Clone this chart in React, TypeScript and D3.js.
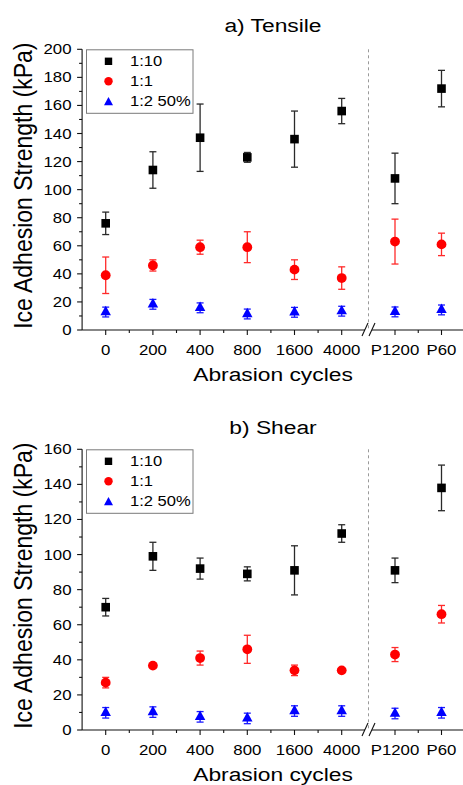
import React from "react";
import * as d3 from "d3";

const categories = ["0", "200", "400", "800", "1600", "4000", "P1200", "P60"];
const leftCats = categories.slice(0, 6);
const rightCats = categories.slice(6);
const seriesNames = ["1:10", "1:1", "1:2 50%"];
const seriesColors = ["#000000", "#ff0000", "#0000ff"];
const errColors = ["#2a2a2a", "#ff2a2a", "#1a1aff"];
const seriesShapes = ["square", "circle", "triangle"];

// a) Tensile
const tensile110 = [76, 114, 137, 123, 136, 156, 108, 172];
const tensile110Err = [8, 13, 24, 3.5, 20, 9, 18, 13];
const tensile11 = [39, 46, 59, 59, 43, 37, 63, 61];
const tensile11Err = [13, 4, 5, 11, 7, 8, 16, 8];
const tensile12 = [12.8, 18.3, 15.8, 11.4, 12.6, 13.4, 12.9, 14.3];
const tensile12Err = [3.5, 3.5, 3.5, 3.5, 3.5, 3.5, 3.5, 3.5];

// b) Shear
const shear110 = [70, 99, 92, 89, 91, 112, 91, 138];
const shear110Err = [5, 8, 6, 4, 14, 5, 7, 13];
const shear11 = [27, 36.7, 41, 46, 34, 34, 43, 66];
const shear11Err = [3, 1, 4, 8, 3, 1, 4, 5];
const shear12 = [9.8, 10.2, 7.5, 6.6, 10.8, 10.8, 9.4, 9.8];
const shear12Err = [3, 3, 3, 3, 3, 3, 3, 3];

const yTicksA = d3.range(0, 201, 20);
const yTicksB = d3.range(0, 161, 20);

const FONT = "'Liberation Sans', Arial, sans-serif";
const SX = 1.2;

const xLeft = d3.scalePoint<string>().domain(leftCats).range([105.7, 341.7]);
const xRight = d3.scalePoint<string>().domain(rightCats).range([395, 441.5]);
const xPos = (c: string) => (leftCats.includes(c) ? (xLeft(c) as number) : (xRight(c) as number));

function Marker({ shape, x, y, color, s }: { shape: string; x: number; y: number; color: string; s: number }) {
  if (shape === "square") {
    return <rect x={x - s / 2} y={y - s / 2} width={s} height={s} fill={color} />;
  }
  if (shape === "circle") {
    return <circle cx={x} cy={y} r={s * 0.57} fill={color} />;
  }
  const w = s * 1.22;
  const h = s * 1.1;
  const p = `M${x},${y - (h * 2) / 3}L${x + w / 2},${y + h / 3}L${x - w / 2},${y + h / 3}Z`;
  return <path d={p} fill={color} />;
}

function STxt({ x, y, size, anchor, children, rotate }: any) {
  const tr = rotate
    ? `translate(${x},${y}) scale(${SX * 0.95},1) rotate(-90)`
    : `translate(${x},${y}) scale(${SX},1)`;
  return (
    <text transform={tr} fontSize={size} textAnchor={anchor} fontFamily={FONT} fill="#000">
      {children}
    </text>
  );
}

function Panel({
  yTop, yBottom, yMax, yTicks, title, titleY, xTitleY, values, errs,
}: any) {
  const y = d3.scaleLinear().domain([0, yMax]).range([yBottom, yTop]);
  const minorY = d3.range(10, yMax, 20);
  const stepL = xLeft.step();
  const axisL0 = (xLeft(leftCats[0]) as number) - stepL / 2;
  const minorXL = leftCats.slice(1).map((c, i) => ((xLeft(c) as number) + (xLeft(leftCats[i]) as number)) / 2);
  const minorXR = rightCats.slice(1).map((c, i) => ((xRight(c) as number) + (xRight(rightCats[i]) as number)) / 2);
  const breakX = 368.5;
  const legTop = yTop;
  return (
    <g>
      <STxt x={273} y={titleY} size={19} anchor="middle">{title}</STxt>
      {/* dashed separator */}
      <line x1={breakX} x2={breakX} y1={yTop} y2={yBottom} stroke="#9a9a9a" strokeWidth={1} strokeDasharray="3,3" />
      {/* y axis */}
      <line x1={axisL0} x2={axisL0} y1={yTop} y2={yBottom} stroke="#111" strokeWidth={1.1} />
      {yTicks.map((t: number) => (
        <g key={"yt" + t}>
          <line x1={axisL0 - 5} x2={axisL0} y1={y(t)} y2={y(t)} stroke="#111" strokeWidth={1.1} />
          <STxt x={71.5} y={y(t) + 5} size={14} anchor="end">{String(t)}</STxt>
        </g>
      ))}
      {minorY.map((t: number) => (
        <line key={"ym" + t} x1={axisL0 - 3} x2={axisL0} y1={y(t)} y2={y(t)} stroke="#111" strokeWidth={1.1} />
      ))}
      <STxt x={32} y={(yTop + yBottom) / 2 - 4} size={23} anchor="middle" rotate>
        Ice Adhesion Strength (kPa)
      </STxt>
      {/* x axis */}
      <line x1={axisL0} x2={breakX - 3.5} y1={yBottom} y2={yBottom} stroke="#111" strokeWidth={1.1} />
      <line x1={breakX + 3.5} x2={470} y1={yBottom} y2={yBottom} stroke="#111" strokeWidth={1.1} />
      <line x1={breakX - 6.5} y1={yBottom + 6} x2={breakX - 0.5} y2={yBottom - 7} stroke="#111" strokeWidth={1.1} />
      <line x1={breakX + 0.5} y1={yBottom + 6} x2={breakX + 6.5} y2={yBottom - 7} stroke="#111" strokeWidth={1.1} />
      {categories.map((c) => (
        <g key={"xt" + c}>
          <line x1={xPos(c)} x2={xPos(c)} y1={yBottom} y2={yBottom + 5} stroke="#111" strokeWidth={1.1} />
          <STxt x={xPos(c)} y={yBottom + 25} size={14} anchor="middle">{c}</STxt>
        </g>
      ))}
      {[...minorXL, ...minorXR].map((mx, i) => (
        <line key={"xm" + i} x1={mx} x2={mx} y1={yBottom} y2={yBottom + 3} stroke="#111" strokeWidth={1.1} />
      ))}
      <STxt x={273} y={xTitleY} size={19} anchor="middle">Abrasion cycles</STxt>
      {/* data */}
      {values.map((vals: number[], si: number) => (
        <g key={"s" + si}>
          {vals.map((v, i) => {
            const cx = xPos(categories[i]);
            const e = errs[si][i];
            const y1 = y(v + e);
            const y2 = y(v - e);
            return (
              <g key={i}>
                <line x1={cx} x2={cx} y1={y1} y2={y2} stroke={errColors[si]} strokeWidth={1.3} />
                <line x1={cx - 3.5} x2={cx + 3.5} y1={y1} y2={y1} stroke={errColors[si]} strokeWidth={1.3} />
                <line x1={cx - 3.5} x2={cx + 3.5} y1={y2} y2={y2} stroke={errColors[si]} strokeWidth={1.3} />
                <Marker shape={seriesShapes[si]} x={cx} y={y(v)} color={seriesColors[si]} s={8.6} />
              </g>
            );
          })}
        </g>
      ))}
      {/* legend */}
      <rect x={86.5} y={legTop + 0.5} width={106.5} height={63.5} fill="#fff" stroke="#7a7a7a" strokeWidth={1} />
      {seriesNames.map((n, i) => {
        const ry = legTop + 12 + i * 20;
        return (
          <g key={"lg" + i}>
            <Marker shape={seriesShapes[i]} x={108.5} y={ry + (i === 2 ? 1.2 : 0)} color={seriesColors[i]} s={7.4} />
            <STxt x={130} y={ry + 5} size={13.8} anchor="start">{n}</STxt>
          </g>
        );
      })}
    </g>
  );
}

export default function App() {
  return (
    <svg width={463} height={785} style={{ position: "absolute", left: 0, top: 0, background: "#fff" }}>
      <rect width={463} height={785} fill="#fff" />
      <Panel
        yTop={49.3}
        yBottom={330}
        yMax={200}
        yTicks={yTicksA}
        title="a) Tensile"
        titleY={31.5}
        xTitleY={380.5}
        values={[tensile110, tensile11, tensile12]}
        errs={[tensile110Err, tensile11Err, tensile12Err]}
      />
      <Panel
        yTop={449.3}
        yBottom={730}
        yMax={160}
        yTicks={yTicksB}
        title="b) Shear"
        titleY={434}
        xTitleY={780.5}
        values={[shear110, shear11, shear12]}
        errs={[shear110Err, shear11Err, shear12Err]}
      />
    </svg>
  );
}
